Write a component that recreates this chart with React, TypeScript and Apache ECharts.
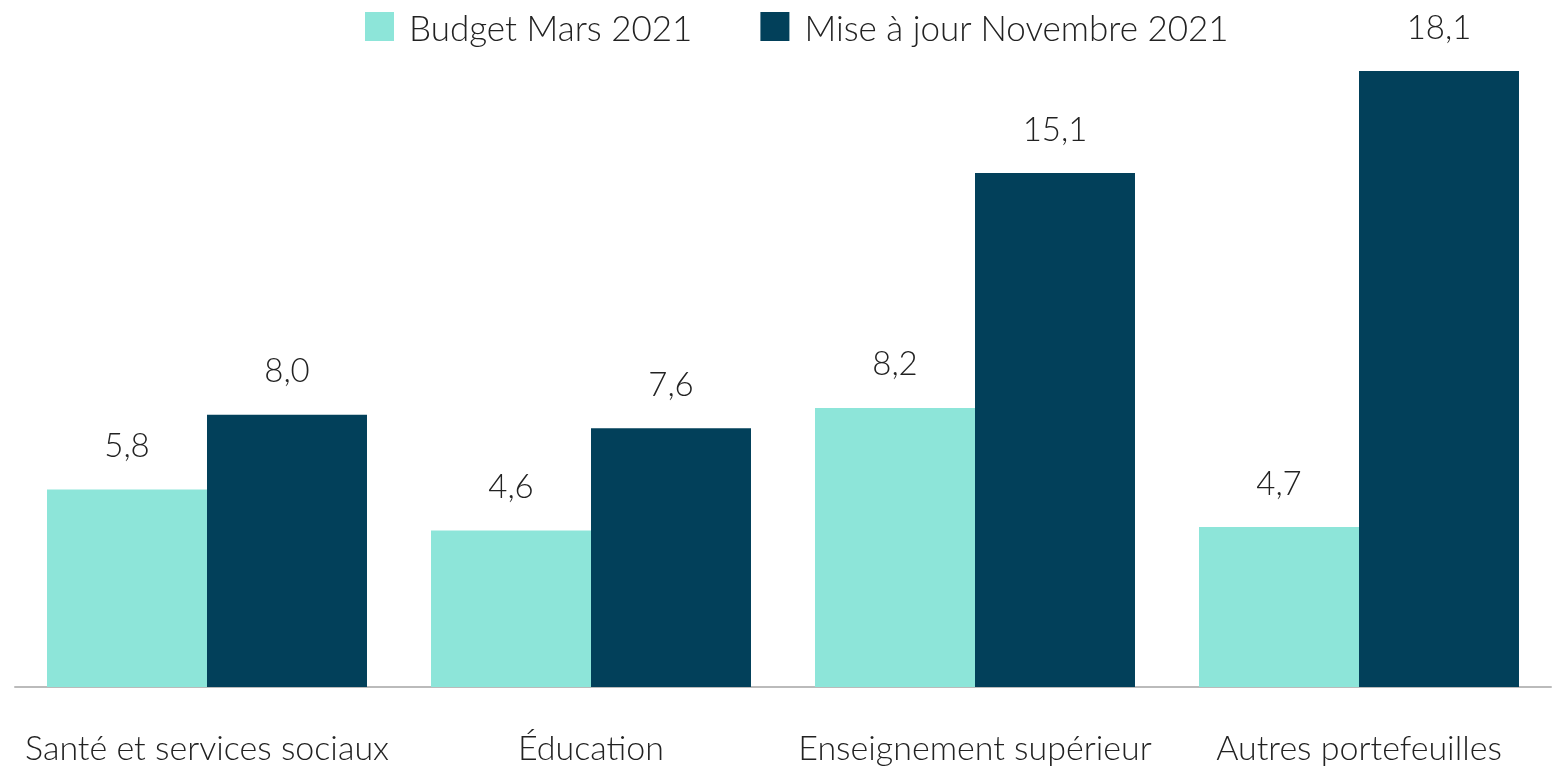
import React, { useEffect, useRef } from "react";
import * as echarts from "echarts";

const categories = [
  "Santé et services sociaux",
  "Éducation",
  "Enseignement supérieur",
  "Autres portefeuilles",
];
const seriesNames = ["Budget Mars 2021", "Mise à jour Novembre 2021"];
const budgetMars = [5.8, 4.6, 8.2, 4.7];
const miseAJourNov = [8.0, 7.6, 15.1, 18.1];

const FONT = "Lato, 'Noto Sans', sans-serif";

export default function App() {
  const ref = useRef<HTMLDivElement>(null);
  useEffect(() => {
    if (!ref.current) return;
    const chart = echarts.init(ref.current, undefined, { renderer: "svg" });
    const fmt = (p: any) => Number(p.value).toFixed(1).replace(".", ",");
    const labelStyle = {
      show: true,
      position: "top",
      distance: 29,
      fontSize: 33,
      color: "#222",
      fontFamily: FONT,
      fontWeight: 300,
      formatter: fmt,
    };
    chart.setOption({
      animation: false,
      textStyle: { fontFamily: FONT },
      legend: {
        top: 9,
        left: 365,
        padding: 0,
        itemWidth: 29,
        itemHeight: 29,
        itemGap: 68,
        icon: "rect",
        textStyle: { fontSize: 35, color: "#222", fontFamily: FONT, fontWeight: 300, padding: [0, 0, 22, 10] },
        data: seriesNames,
      },
      grid: { left: 15, right: 6, top: 71, bottom: 79, containLabel: false },
      xAxis: {
        type: "category",
        data: categories,
        axisLine: { show: true, lineStyle: { color: "#bbbbbb", width: 2 } },
        axisTick: { show: false },
        axisLabel: { fontSize: 34, color: "#222", fontFamily: FONT, fontWeight: 300, margin: 42, interval: 0 },
      },
      yAxis: {
        type: "value",
        min: 0,
        max: 18.1,
        show: false,
        splitLine: { show: false },
      },
      series: [
        {
          name: seriesNames[0],
          type: "bar",
          data: budgetMars,
          barGap: "0%",
          barCategoryGap: "16.67%",
          itemStyle: { color: "#8de5d9" },
          label: labelStyle,
        },
        {
          name: seriesNames[1],
          type: "bar",
          data: miseAJourNov,
          barGap: "0%",
          barCategoryGap: "16.67%",
          itemStyle: { color: "#02405a" },
          label: labelStyle,
        },
      ],
    });
    return () => chart.dispose();
  }, []);
  return <div ref={ref} style={{ position: "fixed", left: 0, top: 0, width: 1557, height: 766 }} />;
}
